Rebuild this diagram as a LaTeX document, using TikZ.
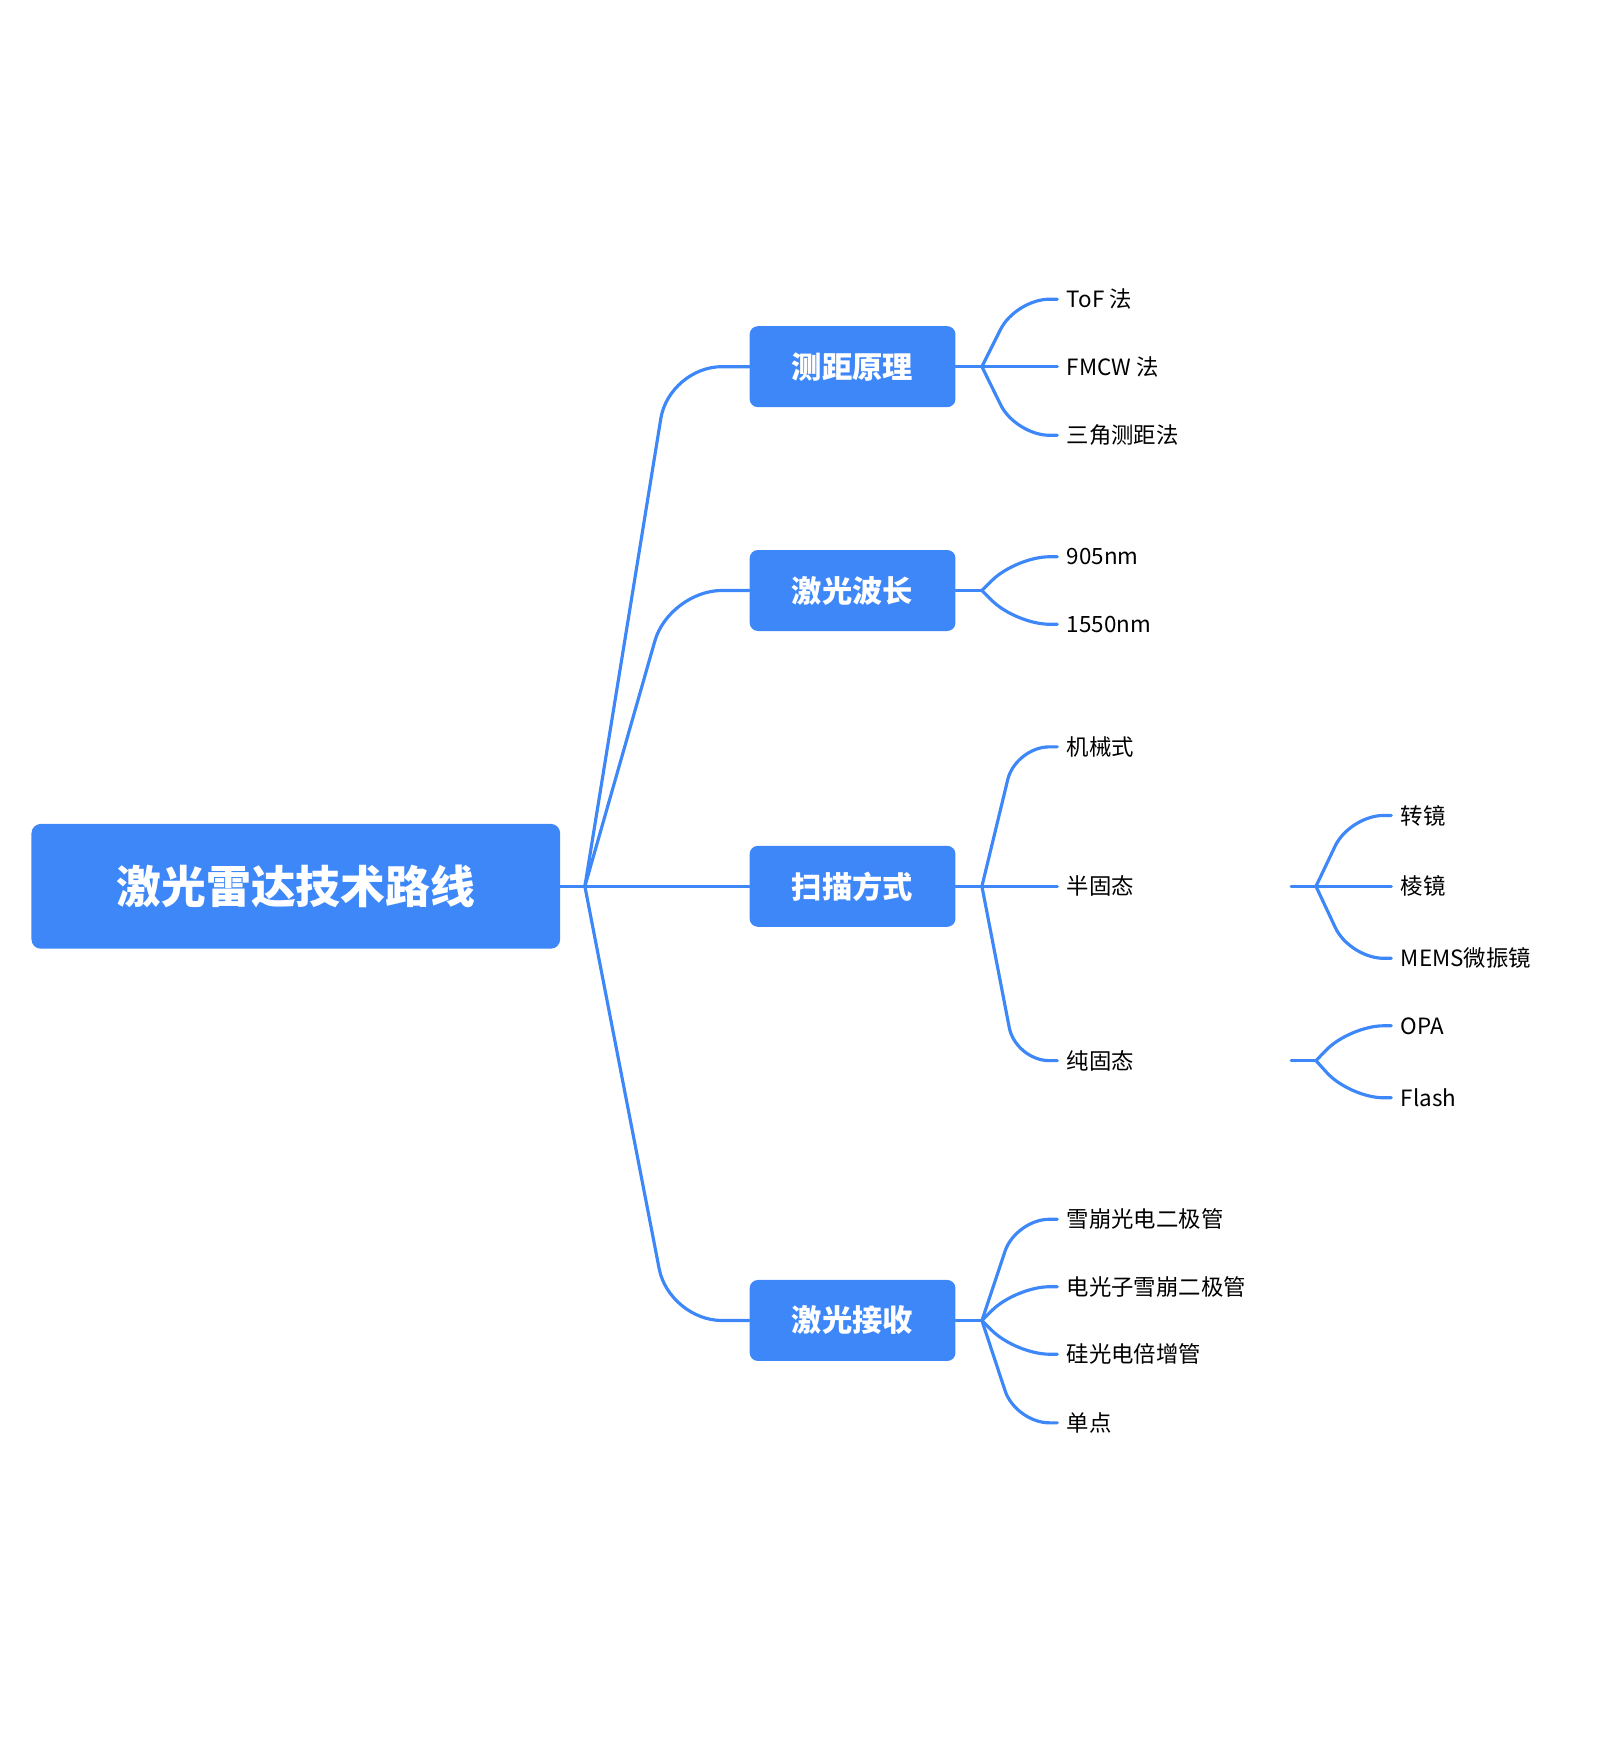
\documentclass[tikz,border=0pt]{standalone}
\usepackage{fontspec}
\setmainfont{Noto Sans CJK SC}
\definecolor{mapblue}{HTML}{3D87F8}
\tikzset{
  rootStyle/.style={fill=mapblue, rounded corners=0.25cm, text=white, font=\fontsize{34}{40}\selectfont\bfseries, minimum width=470*0.03cm, minimum height=111*0.03cm},
  topicStyle/.style={fill=mapblue, rounded corners=0.22cm, text=white, font=\fontsize{23}{28}\selectfont\bfseries, minimum width=183*0.03cm, minimum height=72*0.03cm},
  leafStyle/.style={anchor=west, inner xsep=7pt, text=black, font=\fontsize{17}{20}\selectfont},
  conn/.style={draw=mapblue, line width=2.4pt, line cap=round},
}
\begin{document}
\begin{tikzpicture}[x=0.03cm, y=-0.03cm]
\useasboundingbox (0,0) rectangle (1440,1555);

\node[rootStyle](root) at (263,788) {激光雷达技术路线};
\coordinate (hub) at (520,788);
\draw[conn] (root.east) -- (hub);

% main topics
\foreach \name/\y/\txt in {ranging/326/测距原理, wave/525/激光波长, scan/788/扫描方式, receive/1174/激光接收}{
  \node[topicStyle](\name) at (758,\y) {\txt};
  \draw[conn, rounded corners=1.4cm] (hub) -- (595,\y) -- (\name.west);
  \coordinate (\name hub) at (873,\y);
  \draw[conn] (\name.east) -- (\name hub);
}

% leaves
\foreach \parent/\name/\y/\txt in {ranging/tof/266/ToF 法, ranging/fmcw/326/FMCW 法, ranging/tri/387/三角测距法,
    wave/nmA/495/905nm, wave/nmB/555/1550nm,
    scan/mech/664/机械式, scan/semi/788/半固态, scan/pure/943/纯固态,
    receive/apd/1084/雪崩光电二极管, receive/pmt/1144/电光子雪崩二极管, receive/sipm/1204/硅光电倍增管, receive/array/1265/单点/线阵/面阵}{
  \node[leafStyle](\name) at (940,\y) {\txt};
  \draw[conn, rounded corners=0.9cm] (\parent hub) -- (903,\y) -- (\name.west);
}

% third level
\foreach \parent/\y in {semi/788, pure/943}{
  \coordinate (\parent start) at (1148,\y);
  \coordinate (\parent hub) at (1170,\y);
  \draw[conn] (\parent start) -- (\parent hub);
}
\foreach \parent/\name/\y/\txt in {semi/turn/725/转镜, semi/prism/788/棱镜, semi/mems/852/MEMS微振镜,
    pure/opa/912/OPA, pure/flash/976/Flash}{
  \node[leafStyle](\name) at (1237,\y) {\txt};
  \draw[conn, rounded corners=0.9cm] (\parent hub) -- (1200,\y) -- (\name.west);
}
\end{tikzpicture}
\end{document}
